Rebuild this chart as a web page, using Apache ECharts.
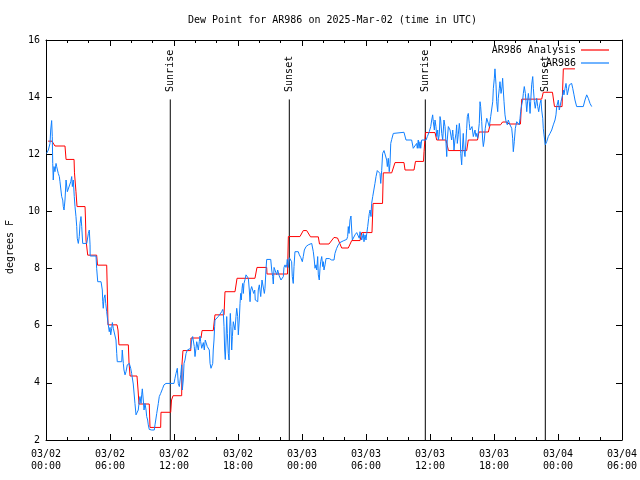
<!DOCTYPE html>
<html>
<head>
<meta charset="utf-8">
<script src="https://cdn.jsdelivr.net/npm/echarts@6/dist/echarts.min.js"></script>
<style>html,body{margin:0;padding:0;background:#fff}#c{width:640px;height:480px}</style>
</head>
<body>
<div id="c"></div>
<script>
// time in hours since 2025-03-02 00:00 UTC, values in degrees F
const titleText = 'Dew Point for AR986 on 2025-Mar-02 (time in UTC)';
const tickLabels = ['03/02\n00:00','03/02\n06:00','03/02\n12:00','03/02\n18:00','03/03\n00:00','03/03\n06:00','03/03\n12:00','03/03\n18:00','03/04\n00:00','03/04\n06:00'];
const sunTimes = [11.65, 22.81, 35.56, 46.81];
const sunLabels = ['Sunrise', 'Sunset', 'Sunrise', 'Sunset'];
const sunLineTop = 13.92;
const sunLabelBase = 14.18;

const analysis = [
[0.2,12.46],[0.56,12.46],[0.84,12.29],[1.78,12.29],[1.88,11.82],[2.63,11.82],[2.67,11.35],[2.81,10.69],[2.91,10.17],[3.66,10.17],
[3.70,9.77],[3.75,9.00],[3.91,8.47],[4.75,8.47],[4.83,8.12],[5.69,8.12],[5.77,6.90],[5.81,6.03],[6.66,6.03],[6.75,5.85],[6.84,5.33],
[7.72,5.33],[7.78,4.73],[7.88,4.24],[8.53,4.24],[8.63,3.75],[8.72,3.26],[9.68,3.26],[9.75,2.44],[10.75,2.44],[10.78,2.97],[11.69,2.97],
[11.77,3.40],[11.91,3.55],[12.72,3.55],[12.75,4.66],[12.84,5.13],[13.57,5.13],[13.59,5.57],[14.53,5.57],[14.63,5.83],[15.68,5.83],
[15.84,6.38],[16.69,6.38],[16.78,7.19],[17.72,7.19],[17.91,7.66],[19.59,7.66],[19.78,8.04],[20.69,8.04],[20.72,7.81],[22.64,7.81],
[22.72,9.12],[23.81,9.12],[24.12,9.33],[24.44,9.33],[24.80,9.11],[25.53,9.11],[25.64,8.86],[26.53,8.86],[27.00,9.09],[27.33,9.07],
[27.72,8.72],[28.34,8.72],[28.66,8.98],[29.44,8.98],[29.60,9.26],[30.56,9.26],[30.66,10.28],[31.55,10.28],[31.62,11.35],[32.41,11.35],
[32.72,11.71],[33.56,11.71],[33.66,11.45],[34.50,11.45],[34.64,11.75],[35.39,11.75],[35.44,12.09],[35.58,12.76],[36.47,12.76],
[36.63,12.50],[37.50,12.50],[37.73,12.13],[39.44,12.13],[39.59,12.50],[40.45,12.50],[40.59,12.78],[41.47,12.78],[41.63,13.03],
[42.61,13.03],[42.80,13.13],[43.22,13.13],[43.41,13.06],[44.48,13.06],[44.60,13.93],[46.47,13.93],[46.62,14.17],[47.48,14.17],
[47.67,13.67],[48.38,13.67],[48.50,14.99],[49.59,14.99]
];

const observed = [
[0.05,12.03],[0.22,12.15],[0.375,12.38],[0.44,12.85],[0.53,13.18],[0.59,12.62],[0.63,11.68],[0.68,11.10],[0.75,11.57],[0.84,11.39],
[0.94,11.68],[1.00,11.57],[1.15,11.33],[1.25,11.22],[1.31,11.04],[1.47,10.52],[1.57,10.40],[1.62,10.17],[1.69,10.05],[1.78,10.40],
[1.88,11.10],[2.00,10.69],[2.18,10.69],[2.32,11.04],[2.41,11.22],[2.47,10.87],[2.56,11.10],[2.65,10.52],[2.72,10.17],[2.81,9.82],
[2.88,9.47],[2.93,9.06],[3.03,8.88],[3.12,9.12],[3.19,9.58],[3.28,9.82],[3.35,9.47],[3.44,8.88],[3.82,8.88],[3.97,9.23],[4.06,9.35],
[4.13,8.83],[4.14,8.44],[4.69,8.44],[4.75,8.01],[4.85,7.54],[5.16,7.54],[5.28,7.25],[5.32,6.84],[5.37,6.61],[5.44,6.96],[5.53,7.08],
[5.60,6.78],[5.69,6.49],[5.78,6.20],[5.84,6.03],[5.93,5.79],[6.00,5.94],[6.07,5.68],[6.16,5.91],[6.22,6.11],[6.31,5.91],[6.47,5.85],
[6.56,5.50],[6.63,5.03],[6.68,4.74],[7.10,4.74],[7.15,5.15],[7.25,4.68],[7.31,4.45],[7.41,4.28],[7.50,4.39],[7.62,4.63],[7.81,4.68],
[7.94,4.51],[8.03,4.33],[8.18,3.96],[8.34,3.28],[8.44,2.88],[8.56,2.88],[8.65,3.05],[8.75,3.40],[8.81,3.52],[8.91,3.28],[8.97,3.58],
[9.03,3.79],[9.12,3.40],[9.19,3.05],[9.28,3.28],[9.38,3.05],[9.44,2.82],[9.53,2.70],[9.59,2.53],[9.68,2.37],[9.91,2.35],[10.15,2.35],
[10.22,2.53],[10.38,2.93],[10.53,3.28],[10.62,3.52],[10.75,3.63],[10.94,3.81],[11.06,3.93],[11.25,3.98],[12.00,3.98],[12.09,4.16],
[12.19,4.33],[12.31,4.51],[12.40,3.98],[12.50,3.87],[12.63,4.28],[12.72,4.63],[12.78,3.75],[12.87,4.10],[12.94,4.68],[13.03,4.80],
[13.13,5.03],[13.25,5.15],[13.43,5.15],[13.57,5.21],[13.66,5.50],[13.75,5.62],[13.81,5.56],[13.90,5.27],[13.97,4.92],[14.06,5.21],
[14.13,5.44],[14.18,5.50],[14.28,5.15],[14.37,5.44],[14.44,5.64],[14.50,5.44],[14.60,5.21],[14.69,5.15],[14.75,5.41],[14.84,5.15],
[14.93,5.50],[15.07,5.48],[15.12,5.27],[15.22,5.27],[15.31,5.15],[15.38,4.68],[15.47,4.51],[15.56,4.45],[15.63,4.68],[15.68,5.15],
[15.75,5.50],[15.81,5.97],[15.84,6.20],[16.00,6.26],[16.15,6.32],[16.31,6.38],[16.47,6.49],[16.57,6.57],[16.62,6.49],[16.69,5.97],
[16.75,5.15],[16.81,4.82],[16.88,5.50],[16.94,6.32],[17.00,5.73],[17.09,5.03],[17.16,4.80],[17.22,5.85],[17.28,6.43],[17.34,5.97],
[17.41,5.15],[17.47,5.62],[17.56,6.14],[17.63,6.20],[17.72,5.85],[17.81,6.32],[17.88,6.61],[17.97,6.32],[18.03,5.68],[18.12,6.20],
[18.19,6.78],[18.25,7.13],[18.31,6.90],[18.38,7.31],[18.44,7.48],[18.50,7.13],[18.56,7.48],[18.66,7.62],[18.75,7.78],[18.87,7.78],
[18.97,7.66],[19.06,7.25],[19.13,6.84],[19.19,7.25],[19.28,7.37],[19.38,7.43],[19.47,7.13],[19.57,7.25],[19.62,6.90],[19.75,6.84],
[19.85,6.84],[19.90,7.25],[20.00,7.43],[20.13,7.02],[20.25,7.60],[20.37,7.66],[20.47,7.13],[20.53,7.31],[20.63,8.01],[20.69,8.32],
[21.07,8.32],[21.16,7.95],[21.25,7.72],[21.31,7.46],[21.38,8.04],[21.56,8.04],[21.63,7.78],[21.72,7.95],[21.87,7.74],[22.03,7.60],
[22.19,7.54],[22.25,7.72],[22.31,8.04],[22.41,8.13],[22.50,8.04],[22.57,8.13],[22.62,8.32],[22.72,8.04],[22.81,8.38],[22.94,8.39],
[23.03,8.24],[23.09,7.72],[23.18,7.48],[23.25,8.07],[23.34,8.59],[23.65,8.59],[23.75,8.48],[23.88,8.39],[24.03,8.24],[24.12,8.42],
[24.22,8.65],[24.38,8.77],[24.59,8.83],[24.91,8.88],[25.00,8.83],[25.06,8.59],[25.15,8.30],[25.22,8.01],[25.31,8.13],[25.38,7.95],
[25.47,8.42],[25.53,7.78],[25.62,7.60],[25.69,8.01],[25.75,8.24],[25.85,8.42],[25.94,8.07],[26.00,8.24],[26.06,7.95],[26.16,8.13],
[26.25,8.35],[26.56,8.35],[26.78,8.30],[27.00,8.30],[27.09,8.53],[27.25,8.71],[27.40,8.83],[27.56,8.91],[27.72,8.94],[27.87,8.97],
[28.03,9.00],[28.19,9.02],[28.28,9.12],[28.34,9.47],[28.41,9.23],[28.50,9.70],[28.59,9.84],[28.66,9.35],[28.72,9.00],[28.81,8.98],
[28.97,9.18],[29.13,9.26],[29.28,9.23],[29.37,9.06],[29.44,9.29],[29.60,9.00],[29.75,9.23],[29.81,8.94],[29.91,9.18],[30.00,9.00],
[30.07,9.23],[30.16,9.47],[30.25,9.76],[30.31,9.93],[30.38,10.05],[30.47,9.82],[30.53,10.28],[30.63,10.52],[30.75,10.58],[30.84,10.98],
[30.94,11.22],[31.06,11.43],[31.22,11.45],[31.31,11.33],[31.38,10.98],[31.47,11.43],[31.56,12.03],[31.69,12.13],[31.81,12.09],
[31.94,11.80],[32.00,11.57],[32.09,11.86],[32.18,11.39],[32.25,11.68],[32.32,12.38],[32.41,12.52],[32.56,12.73],[32.72,12.77],
[33.56,12.77],[33.75,12.50],[34.28,12.50],[34.43,12.21],[34.59,12.17],[34.75,12.38],[34.81,12.21],[34.90,12.50],[34.97,12.21],
[35.06,12.44],[35.13,12.21],[35.22,12.50],[35.63,12.50],[35.75,12.62],[35.93,12.79],[36.07,12.97],[36.16,13.20],[36.25,13.38],
[36.31,13.14],[36.41,12.85],[36.47,13.20],[36.56,12.97],[36.63,12.62],[36.72,12.85],[36.78,12.50],[36.87,12.68],[36.94,13.32],
[37.00,13.20],[37.10,12.73],[37.19,12.50],[37.25,12.85],[37.31,13.20],[37.41,12.97],[37.50,12.38],[37.57,11.92],[37.62,12.50],
[37.72,12.97],[37.88,12.85],[38.03,12.50],[38.13,12.85],[38.18,12.62],[38.25,12.15],[38.34,12.50],[38.44,12.73],[38.50,13.03],
[38.56,12.38],[38.65,12.68],[38.75,13.08],[38.81,12.85],[38.88,12.03],[38.97,11.63],[39.03,12.15],[39.12,12.73],[39.19,12.15],
[39.28,11.92],[39.38,12.50],[39.44,12.91],[39.50,13.32],[39.59,13.43],[39.68,13.08],[39.75,12.85],[39.84,12.79],[39.94,12.97],
[40.06,12.62],[40.22,12.85],[40.31,12.62],[40.38,12.73],[40.47,12.56],[40.57,12.62],[40.62,13.08],[40.69,13.84],[40.75,13.67],
[40.85,13.14],[40.94,12.50],[41.00,12.27],[41.09,12.50],[41.18,12.91],[41.32,13.26],[41.47,13.20],[41.56,12.97],[41.69,13.32],
[41.78,13.26],[41.88,13.84],[41.94,14.31],[42.03,14.66],[42.09,14.99],[42.19,14.43],[42.25,13.84],[42.35,13.49],[42.40,13.96],
[42.50,14.31],[42.56,14.54],[42.66,14.13],[42.75,14.36],[42.81,14.66],[42.87,14.25],[42.94,13.84],[43.03,13.38],[43.13,13.14],
[43.25,13.03],[43.34,13.20],[43.50,13.03],[43.66,12.91],[43.75,12.56],[43.81,12.09],[43.90,12.44],[44.00,12.91],[44.13,13.14],
[44.28,13.17],[44.37,13.03],[44.44,13.26],[44.50,13.49],[44.60,13.73],[44.69,13.90],[44.75,14.13],[44.84,14.37],[44.94,14.13],
[45.00,13.84],[45.07,13.49],[45.16,13.90],[45.22,14.13],[45.31,13.84],[45.38,13.43],[45.44,13.84],[45.53,14.43],[45.63,14.72],
[45.69,14.31],[45.78,13.84],[45.87,13.61],[46.00,13.96],[46.10,13.67],[46.19,13.49],[46.31,13.78],[46.41,13.90],[46.47,13.55],
[46.57,13.26],[46.62,12.91],[46.69,12.68],[46.81,12.33],[46.94,12.44],[47.09,12.62],[47.25,12.73],[47.41,12.85],[47.56,13.03],
[47.72,13.20],[47.81,13.38],[47.88,13.67],[47.97,13.61],[48.03,13.90],[48.12,13.55],[48.19,13.67],[48.28,13.84],[48.35,13.90],
[48.44,14.08],[48.50,14.25],[48.56,14.08],[48.66,14.31],[48.75,14.48],[48.81,14.31],[48.87,14.08],[48.97,14.25],[49.06,14.43],
[49.13,14.37],[49.28,14.48],[49.38,14.31],[49.50,14.08],[49.59,13.90],[49.75,13.67],[50.37,13.67],[50.53,13.90],[50.69,14.08],
[50.84,13.96],[51.00,13.78],[51.16,13.67]
];

const FONT = 'DejaVu Sans Mono';
const txt = {fontFamily: FONT, fontSize: 10, color: '#000'};

const chart = echarts.init(document.getElementById('c'), null, {renderer: 'canvas'});

const xBase = {
  type: 'value', min: 0, max: 54, interval: 6,
  axisLine: {onZero: false, lineStyle: {color: '#000', width: 1}},
  axisTick: {inside: true, length: 6, lineStyle: {color: '#000'}},
  minorTick: {show: true, splitNumber: 3, length: 3, lineStyle: {color: '#000'}},
  splitLine: {show: false}
};
const yBase = {
  type: 'value', min: 2, max: 16, interval: 2,
  axisLine: {onZero: false, lineStyle: {color: '#000', width: 1}},
  axisTick: {inside: true, length: 6, lineStyle: {color: '#000'}},
  splitLine: {show: false}
};

const sunSeries = sunTimes.map((t, i) => ({
  type: 'line', name: 'sun' + i, data: [[t, sunLineTop], [t, 2]],
  symbol: 'none', lineStyle: {color: '#000', width: 1}, silent: true, z: 3
}));

chart.setOption({
  animation: false,
  backgroundColor: '#fff',
  title: {
    text: titleText, left: 188, top: 15, padding: 0,
    textStyle: {fontFamily: FONT, fontSize: 10, fontWeight: 'normal', color: '#000'}
  },
  grid: {left: 46, right: 18, top: 40, bottom: 40, containLabel: false, outerBoundsMode: 'none'},
  legend: {
    data: ['AR986 Analysis', 'AR986'],
    orient: 'vertical', right: 31, top: 44, align: 'right', padding: 0,
    icon: 'rect', itemWidth: 28, itemHeight: 1.2, itemGap: 1,
    textStyle: Object.assign({lineHeight: 12}, txt),
    selectedMode: false
  },
  xAxis: [
    Object.assign({}, xBase, {
      position: 'bottom',
      axisLabel: Object.assign({margin: 8, lineHeight: 12, formatter: v => tickLabels[Math.round(v / 6)] || ''}, txt)
    }),
    Object.assign({}, xBase, {position: 'top', axisLabel: {show: false}})
  ],
  yAxis: [
    Object.assign({}, yBase, {
      position: 'left',
      name: 'degrees F', nameLocation: 'middle', nameGap: 31, nameRotate: 90,
      nameTextStyle: Object.assign({padding: [0, 14, 0, 0]}, txt),
      axisLabel: Object.assign({margin: 6}, txt)
    }),
    Object.assign({}, yBase, {position: 'right', axisLabel: {show: false}})
  ],
  series: [
    {
      type: 'line', name: 'AR986 Analysis', data: analysis, symbol: 'none',
      lineStyle: {color: '#ff0000', width: 1}, itemStyle: {color: '#ff0000'}, z: 4
    },
    {
      type: 'line', name: 'AR986', data: observed, symbol: 'none',
      lineStyle: {color: '#1080ff', width: 1}, itemStyle: {color: '#1080ff'}, z: 5
    },
    ...sunSeries,
    {
      type: 'scatter', name: 'sunlabels', symbolSize: 0.1, silent: true, z: 6,
      itemStyle: {color: '#000'},
      data: sunTimes.map((t, i) => ({value: [t, sunLabelBase], name: sunLabels[i]})),
      label: Object.assign({
        show: true, formatter: p => p.name, position: [0, 0],
        rotate: 90, align: 'left', verticalAlign: 'middle', opacity: 1
      }, txt)
    }
  ]
});
</script>
</body>
</html>
